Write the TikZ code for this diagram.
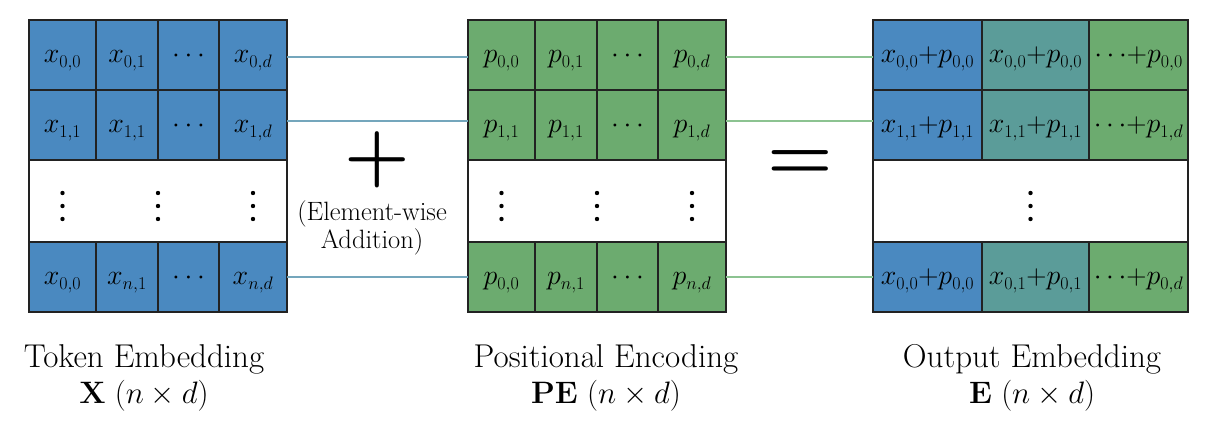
\documentclass[tikz,border=0pt]{standalone}
\usepackage{fix-cm}
\DeclareMathSizes{28}{28}{18}{13}
\definecolor{cblue}{HTML}{4A89C0}
\definecolor{cgreen}{HTML}{6CAB6F}
\definecolor{cteal}{HTML}{5B9C99}
\definecolor{lblue}{HTML}{74A6BC}
\definecolor{lgreen}{HTML}{8CC391}
\definecolor{bord}{HTML}{222222}
\tikzset{
  cell/.style={draw=bord, line width=1.6pt, inner sep=0pt, outer sep=0pt, anchor=north west, minimum height=70pt, text height=16pt, text depth=0pt, font=\fontsize{28}{30}\selectfont},
  bcell/.style={cell, fill=cblue},
  gcell/.style={cell, fill=cgreen},
  tcell/.style={cell, fill=cteal},
  wcell/.style={cell, fill=white, minimum height=82pt},
  wa/.style={minimum width=67pt},
  wb/.style={minimum width=62pt},
  wc/.style={minimum width=61pt},
  wd/.style={minimum width=68pt},
  ra/.style={minimum width=109pt},
  rb/.style={minimum width=107pt},
  rc/.style={minimum width=99pt},
  lab/.style={align=center, anchor=north, inner sep=0pt, font=\fontsize{33}{36}\selectfont},
  op/.style={anchor=base, inner sep=0pt, font=\fontsize{75}{75}\selectfont\bfseries},
  bline/.style={draw=lblue, line width=1.4pt},
  gline/.style={draw=lgreen, line width=1.4pt}
}
\newcommand{\dotcol}[2]{\foreach \dy in {-13,0,13} {\fill[black] (#1,#2+\dy) circle (2.2);}}
\newcommand{\dimline}[1]{{\fontsize{31}{36}\selectfont$\mathbf{#1}\ (n\times d)$}}
\begin{document}
\begin{tikzpicture}[x=1pt, y=-1pt]
\fill[white] (0,0) rectangle (1218,430);
% ---------- Token embedding X ----------
\node[bcell,wa] (L00) at (29,20) {$x_{0,0}$};
\node[bcell,wb] (L01) at (96,20) {$x_{0,1}$};
\node[bcell,wc] (L02) at (158,20) {$\cdots$};
\node[bcell,wd] (L03) at (219,20) {$x_{0,d}$};
\node[bcell,wa] (L10) at (29,90) {$x_{1,1}$};
\node[bcell,wb] (L11) at (96,90) {$x_{1,1}$};
\node[bcell,wc] (L12) at (158,90) {$\cdots$};
\node[bcell,wd] (L13) at (219,90) {$x_{1,d}$};
\node[wcell,minimum width=258pt] (LW) at (29,160) {};
\node[bcell,wa] (L30) at (29,242) {$x_{0,0}$};
\node[bcell,wb] (L31) at (96,242) {$x_{n,1}$};
\node[bcell,wc] (L32) at (158,242) {$\cdots$};
\node[bcell,wd] (L33) at (219,242) {$x_{n,d}$};
\dotcol{62.5}{206}
\dotcol{158}{206}
\dotcol{253}{206}
% ---------- Positional encoding PE ----------
\node[gcell,wa] (P00) at (468,20) {$p_{0,0}$};
\node[gcell,wb] (P01) at (535,20) {$p_{0,1}$};
\node[gcell,wc] (P02) at (597,20) {$\cdots$};
\node[gcell,wd] (P03) at (658,20) {$p_{0,d}$};
\node[gcell,wa] (P10) at (468,90) {$p_{1,1}$};
\node[gcell,wb] (P11) at (535,90) {$p_{1,1}$};
\node[gcell,wc] (P12) at (597,90) {$\cdots$};
\node[gcell,wd] (P13) at (658,90) {$p_{1,d}$};
\node[wcell,minimum width=258pt] (PW) at (468,160) {};
\node[gcell,wa] (P30) at (468,242) {$p_{0,0}$};
\node[gcell,wb] (P31) at (535,242) {$p_{n,1}$};
\node[gcell,wc] (P32) at (597,242) {$\cdots$};
\node[gcell,wd] (P33) at (658,242) {$p_{n,d}$};
\dotcol{501.5}{206}
\dotcol{597}{206}
\dotcol{692}{206}
% ---------- Output embedding E ----------
\node[bcell,ra] (E00) at (873,20) {$x_{0,0}{+}p_{0,0}$};
\node[tcell,rb] (E01) at (982,20) {$x_{0,0}{+}p_{0,0}$};
\node[gcell,rc] (E02) at (1089,20) {$\mathord{\cdots}{+}p_{0,0}$};
\node[bcell,ra] (E10) at (873,90) {$x_{1,1}{+}p_{1,1}$};
\node[tcell,rb] (E11) at (982,90) {$x_{1,1}{+}p_{1,1}$};
\node[gcell,rc] (E12) at (1089,90) {$\mathord{\cdots}{+}p_{1,d}$};
\node[wcell,minimum width=315pt] (EW) at (873,160) {};
\node[bcell,ra] (E30) at (873,242) {$x_{0,0}{+}p_{0,0}$};
\node[tcell,rb] (E31) at (982,242) {$x_{0,1}{+}p_{0,1}$};
\node[gcell,rc] (E32) at (1089,242) {$\mathord{\cdots}{+}p_{0,d}$};
\dotcol{1030.5}{206}
% ---------- connectors ----------
\draw[bline] ([yshift=-2pt]L03.east) -- ([yshift=-2pt]P00.west);
\draw[bline] ([yshift=4pt]L13.east) -- ([yshift=4pt]P10.west);
\draw[bline] (L33.east) -- (P30.west);
\draw[gline] ([yshift=-2pt]P03.east) -- ([yshift=-2pt]E00.west);
\draw[gline] ([yshift=4pt]P13.east) -- ([yshift=4pt]E10.west);
\draw[gline] (P33.east) -- (E30.west);
% ---------- operators ----------
\node[op] (plus) at (377,178.75) {+};
\node[align=center, anchor=north, inner sep=0pt, font=\fontsize{26.5}{28}\selectfont] (ew) at (372,200) {(Element-wise\\Addition)};
\node[op] (eq) at (800,179.25) {=};
% ---------- labels ----------
\node[lab] (tl) at (144,344) {Token Embedding\\\dimline{X}};
\node[lab] (pl) at (606,344) {Positional Encoding\\\dimline{PE}};
\node[lab] (ol) at (1032,344) {Output Embedding\\\dimline{E}};
\end{tikzpicture}
\end{document}
